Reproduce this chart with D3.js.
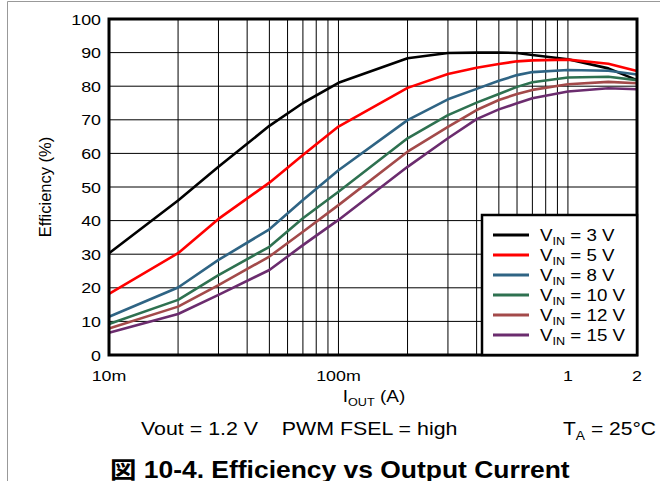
<!DOCTYPE html>
<html>
<head>
<meta charset="utf-8">
<script src="https://cdn.jsdelivr.net/npm/d3@7"></script>
<style>
	body { margin: 0; background: #fff; }
	text { font-family: "Liberation Sans", Arial, sans-serif; fill: #000; }
</style>
</head>
<body>
<div id="chart"></div>
<script>
var w = 660,
	h = 481,
	plotL = 109,
	plotR = 637,
	plotT = 19,
	plotB = 355,
	sx = 1.15;

// output current (A)
var iout = [0.01, 0.02, 0.03, 0.05, 0.07, 0.1, 0.2, 0.3, 0.4, 0.5, 0.6, 0.7, 1, 1.5, 2];
var vin = ['3', '5', '8', '10', '12', '15'];
var colors = ['#000000', '#ff0000', '#2f6484', '#2e7150', '#a34a4a', '#6b2c6e'];
var eff3 = [30.3, 46, 56, 68.2, 75, 81, 88.3, 89.9, 90, 90, 89.9, 89.3, 88, 85.3, 81.8];
var eff5 = [18.2, 30.3, 40.5, 51.3, 59.5, 68, 79.5, 83.6, 85.5, 86.6, 87.4, 87.7, 87.9, 86.7, 84.5];
var eff8 = [11.4, 20.1, 28.3, 37.4, 46.1, 55, 69.9, 76.1, 79.2, 81.6, 83.3, 84.2, 84.8, 84.6, 83.5];
var eff10 = [9.2, 16.4, 23.8, 32.2, 40.7, 48.6, 64.5, 71.4, 75.1, 77.7, 79.8, 81.2, 82.6, 82.8, 81.8];
var eff12 = [7.9, 14.4, 20.8, 29.3, 36.7, 44.6, 60.5, 67.9, 72.9, 75.9, 77.7, 78.9, 80.6, 81.3, 80.9];
var eff15 = [6.6, 12.2, 17.9, 25.3, 32.7, 40.2, 56, 64.5, 70.2, 73.1, 74.9, 76.4, 78.4, 79.4, 79.1];
var series = [eff3, eff5, eff8, eff10, eff12, eff15];
var xTicks = [0.01, 0.1, 1, 2],
	xTickLabels = ['10m', '100m', '1', '2'],
	yTicks = d3.range(0, 101, 10);

var x = d3.scaleLog().domain([0.01, 2]).range([plotL, plotR]),
	y = d3.scaleLinear().domain([0, 100]).range([plotB, plotT]);

var svg = d3.select('#chart').append('svg')
	.attr('width', w)
	.attr('height', h);

// outer frame of the figure
svg.append('path')
	.attr('d', 'M7.5,481V1.5H660')
	.style('fill', 'none')
	.style('stroke', '#999')
	.style('stroke-width', 1);

// grid
var xGrid = [];
[0.01, 0.1, 1].forEach(function(d) {
	for (var k = 1; k < 10; k++) if (d * k > 0.01 && d * k < 2) xGrid.push(d * k);
});

svg.append('g').selectAll('line')
	.data(xGrid)
	.enter().append('line')
	.attr('x1', x).attr('x2', x)
	.attr('y1', plotT).attr('y2', plotB)
	.style('stroke', '#000')
	.style('stroke-width', 1);

svg.append('g').selectAll('line')
	.data(yTicks.slice(1, -1))
	.enter().append('line')
	.attr('x1', plotL).attr('x2', plotR)
	.attr('y1', y).attr('y2', y)
	.style('stroke', '#000')
	.style('stroke-width', 1);

// curves
var line = d3.line()
	.x(function(d, i) { return x(iout[i]); })
	.y(function(d) { return y(d); });

svg.append('g').selectAll('path')
	.data(series)
	.enter().append('path')
	.attr('d', line)
	.style('fill', 'none')
	.style('stroke', function(d, i) { return colors[i]; })
	.style('stroke-width', 2.6)
	.style('stroke-linejoin', 'round');

// plot border
svg.append('rect')
	.attr('x', plotL)
	.attr('y', plotT)
	.attr('width', plotR - plotL)
	.attr('height', plotB - plotT)
	.style('fill', 'none')
	.style('stroke', '#000')
	.style('stroke-width', 3);

function stretched(parent, px, py, size) {
	return parent.append('text')
		.attr('transform', 'translate(' + px + ',' + py + ') scale(' + sx + ',1)')
		.style('font-size', size + 'px');
}

// tick labels
yTicks.forEach(function(d) {
	stretched(svg, 101, y(d) + 5.5, 15.5).attr('text-anchor', 'end').text(d);
});
xTicks.forEach(function(d, i) {
	stretched(svg, x(d), 381, 15.5).attr('text-anchor', 'middle').text(xTickLabels[i]);
});

svg.append('text')
	.attr('transform', 'translate(51,187) rotate(-90)')
	.attr('text-anchor', 'middle')
	.style('font-size', '16.5px')
	.text('Efficiency (%)');

var xl = stretched(svg, 374, 402, 16.5).attr('text-anchor', 'middle');
xl.append('tspan').text('I');
xl.append('tspan').attr('dy', 4).style('font-size', '11px').text('OUT');
xl.append('tspan').attr('dy', -4).text(' (A)');

stretched(svg, 141, 435, 18.6).text('Vout = 1.2 V    PWM FSEL = high').style('white-space', 'pre');
var ta = stretched(svg, 563, 435, 18.3);
ta.append('tspan').text('T');
ta.append('tspan').attr('dy', 5).style('font-size', '12px').text('A');
ta.append('tspan').attr('dy', -5).text(' = 25°C');

stretched(svg, 110, 478, 23)
	.style('font-weight', 'bold')
	.style('font-family', '"Liberation Sans", "Noto Sans CJK JP", sans-serif')
	.text('図 10-4. Efficiency vs Output Current');

// legend
var lg = svg.append('g');
lg.append('rect')
	.attr('x', 482)
	.attr('y', 215)
	.attr('width', plotR - 482)
	.attr('height', plotB - 215)
	.style('fill', '#fff')
	.style('stroke', '#000')
	.style('stroke-width', 2.5);

vin.forEach(function(v, i) {
	var ly = 235 + i * 20;
	lg.append('line')
		.attr('x1', 493).attr('x2', 529)
		.attr('y1', ly).attr('y2', ly)
		.style('stroke', colors[i])
		.style('stroke-width', 2.8);
	var t = stretched(lg, 540, ly + 6, 16.3);
	t.append('tspan').text('V');
	t.append('tspan').attr('dy', 4).style('font-size', '11px').text('IN');
	t.append('tspan').attr('dy', -4).text(' = ' + v + ' V');
});
</script>
</body>
</html>
